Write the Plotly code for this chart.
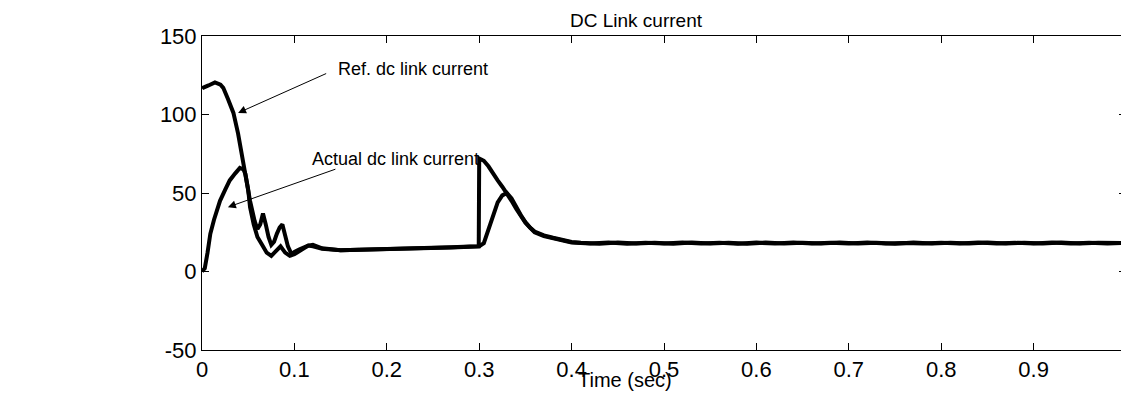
import plotly.graph_objects as go

# Reference dc link current
ref_t = [0.0, 0.001, 0.007, 0.014, 0.02, 0.023, 0.028, 0.034, 0.039, 0.044, 0.048, 0.052, 0.057,
         0.060, 0.063, 0.066, 0.069, 0.072, 0.075, 0.078, 0.081, 0.084, 0.087, 0.090, 0.093, 0.097,
         0.100, 0.105, 0.110, 0.115, 0.120, 0.125, 0.130, 0.140, 0.150, 0.170, 0.190, 0.210, 0.230,
         0.250, 0.270, 0.290, 0.2995, 0.300, 0.305, 0.310, 0.315, 0.320, 0.325, 0.330, 0.335, 0.340,
         0.345, 0.350, 0.355, 0.360, 0.370, 0.380, 0.390, 0.400,
         0.42, 0.44, 0.46, 0.48, 0.50, 0.52, 0.54, 0.56, 0.58, 0.60, 0.62, 0.64, 0.66, 0.68, 0.70,
         0.72, 0.74, 0.76, 0.78, 0.80, 0.82, 0.84, 0.86, 0.88, 0.90, 0.92, 0.94, 0.96, 0.98, 1.00]
ref_i = [116.5, 117.0, 118.5, 120.4, 119.0, 117.0, 110.0, 101.0, 88.0, 71.0, 57.0, 45.0, 32.0,
         27.0, 30.0, 37.0, 30.0, 22.0, 17.0, 19.0, 24.0, 28.0, 30.0, 22.0, 16.0, 11.0,
         12.5, 14.0, 15.5, 16.5, 16.0, 15.0, 14.5, 14.0, 13.5, 13.8, 14.0, 14.3, 14.8,
         15.0, 15.3, 15.8, 16.0, 72.0, 70.5, 67.0, 62.0, 58.0, 54.0, 50.0, 45.0, 40.0,
         35.0, 31.0, 28.0, 25.0, 22.5, 21.0, 19.5, 18.5,
         17.8, 18.4, 17.7, 18.3, 17.8, 18.5, 17.9, 18.3, 17.7, 18.4, 17.8, 18.5, 17.9, 18.3, 17.8,
         18.4, 17.8, 18.2, 17.9, 18.3, 17.8, 18.4, 17.9, 18.3, 17.8, 18.5, 17.9, 18.3, 17.8, 18.2]

# Actual dc link current
act_t = [0.0, 0.003, 0.006, 0.009, 0.013, 0.0195, 0.025, 0.030, 0.036, 0.041, 0.045, 0.047,
         0.050, 0.052, 0.056, 0.060, 0.065, 0.070, 0.075, 0.080, 0.085, 0.090, 0.095, 0.100,
         0.105, 0.110, 0.115, 0.120, 0.125, 0.130, 0.140, 0.150, 0.170, 0.190, 0.210, 0.230,
         0.250, 0.270, 0.290, 0.300, 0.305, 0.310, 0.315, 0.320, 0.325, 0.330, 0.335, 0.340,
         0.345, 0.350, 0.355, 0.360, 0.370, 0.380, 0.390, 0.400,
         0.41, 0.43, 0.45, 0.47, 0.49, 0.51, 0.53, 0.55, 0.57, 0.59, 0.61, 0.63, 0.65, 0.67, 0.69,
         0.71, 0.73, 0.75, 0.77, 0.79, 0.81, 0.83, 0.85, 0.87, 0.89, 0.91, 0.93, 0.95, 0.97, 0.99, 1.00]
act_i = [0.0, 2.0, 12.0, 24.0, 33.0, 45.0, 52.0, 58.0, 62.5, 66.0, 65.0, 62.0,
         52.0, 41.0, 30.0, 22.0, 17.0, 12.0, 10.0, 13.0, 16.0, 12.0, 10.0, 11.0,
         13.0, 15.0, 16.5, 17.0, 16.0, 14.8, 14.2, 13.6, 13.9, 14.1, 14.4, 14.9,
         15.1, 15.4, 15.9, 16.0, 18.0, 27.0, 37.0, 44.0, 48.5, 50.0, 46.5, 41.0,
         36.0, 31.5, 28.0, 25.5, 23.0, 21.5, 20.0, 18.8,
         18.3, 17.7, 18.4, 17.8, 18.3, 17.7, 18.4, 17.9, 18.3, 17.7, 18.4, 17.8, 18.3, 17.8, 18.4,
         17.8, 18.3, 17.7, 18.4, 17.9, 18.3, 17.8, 18.4, 17.8, 18.3, 17.8, 18.4, 17.9, 18.3, 17.8, 18.1]

x_ticks = [0, 0.1, 0.2, 0.3, 0.4, 0.5, 0.6, 0.7, 0.8, 0.9, 1]
x_tick_labels = ["0", "0.1", "0.2", "0.3", "0.4", "0.5", "0.6", "0.7", "0.8", "0.9", "1"]
y_ticks = [-50, 0, 50, 100, 150]
y_tick_labels = ["-50", "0", "50", "100", "150"]

FONT = "Liberation Sans, Arial, Helvetica, sans-serif"

fig = go.Figure()
fig.add_trace(go.Scatter(x=ref_t, y=ref_i, mode="lines", name="Ref. dc link current",
                         line=dict(color="black", width=4), showlegend=False))
fig.add_trace(go.Scatter(x=act_t, y=act_i, mode="lines", name="Actual dc link current",
                         line=dict(color="black", width=4), showlegend=False))

axis_common = dict(showline=True, linecolor="black", linewidth=1, mirror="ticks",
                   ticks="inside", ticklen=7, tickcolor="black", tickwidth=1,
                   showgrid=False, zeroline=False,
                   tickfont=dict(family=FONT, size=22, color="black"))

fig.update_xaxes(range=[0, 1], tickmode="array", tickvals=x_ticks, ticktext=x_tick_labels,
                 **axis_common)
fig.update_yaxes(range=[-50, 150], tickmode="array", tickvals=y_ticks, ticktext=y_tick_labels,
                 **axis_common)

annotations = [
    dict(text="DC Link current", xref="paper", yref="paper", x=0.47, y=1, yanchor="bottom",
         yshift=3, showarrow=False, font=dict(family=FONT, size=19, color="black")),
    dict(text="Time (sec)", xref="paper", yref="paper", x=0.458, y=0, yanchor="middle",
         yshift=-30, showarrow=False, font=dict(family=FONT, size=20, color="black")),
    dict(text="Ref. dc link current", xref="x", yref="y", x=0.145, y=129, xanchor="left",
         yanchor="middle", showarrow=False, font=dict(family=FONT, size=18, color="black")),
    dict(text="Actual dc link current", xref="x", yref="y", x=0.117, y=71.5, xanchor="left",
         yanchor="middle", showarrow=False, font=dict(family=FONT, size=18, color="black")),
    dict(text="", xref="x", yref="y", x=0.039, y=101, axref="x", ayref="y", ax=0.136, ay=126.5,
         showarrow=True, arrowhead=2, arrowsize=1.6, arrowwidth=1, arrowcolor="black"),
    dict(text="", xref="x", yref="y", x=0.028, y=41, axref="x", ayref="y", ax=0.146, ay=65.5,
         showarrow=True, arrowhead=2, arrowsize=1.6, arrowwidth=1, arrowcolor="black"),
]

# page body has an 8px default margin, so the figure is sized to fit inside the window
fig.update_layout(width=1121, height=386, margin=dict(l=194, r=3, t=28, b=44),
                  plot_bgcolor="white", paper_bgcolor="white", annotations=annotations,
                  font=dict(family=FONT, color="black"))

fig.write_html("out.html")
